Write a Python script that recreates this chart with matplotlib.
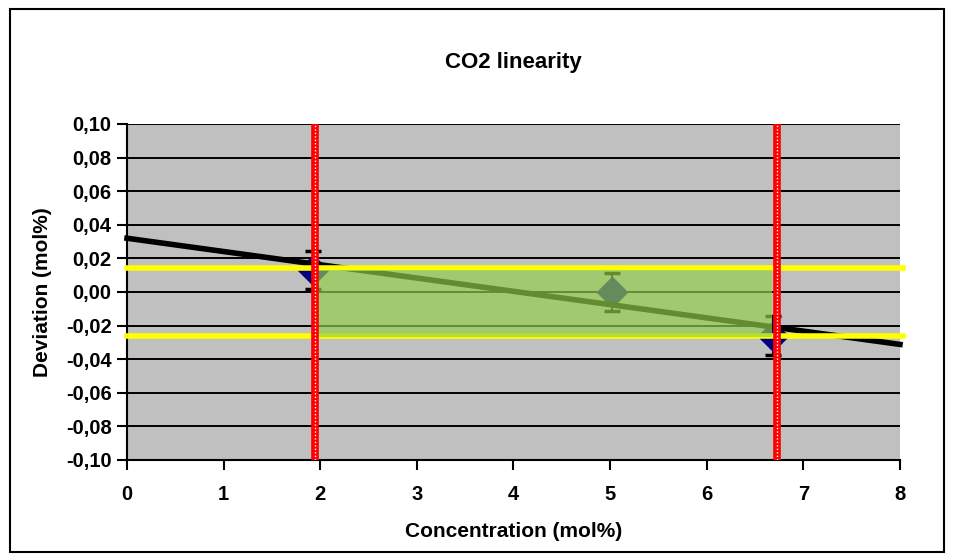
import numpy as np
import matplotlib
matplotlib.use("Agg")
import matplotlib.pyplot as plt
from matplotlib.ticker import FuncFormatter
from matplotlib.patches import Rectangle

plt.rcParams['font.family'] = ['Liberation Sans', 'DejaVu Sans']
plt.rcParams['font.weight'] = 'bold'

# measured points
conc = [1.93, 5.02, 6.69]
dev = [0.013, 0.000, -0.026]
err = [0.0115, 0.0113, 0.0115]

# trend line (intercept, slope)
trend = (0.032, -0.0079)

# limits
limit_lo = 1.95
limit_hi = 6.73
band_top = 0.014
band_bottom = -0.026
green_box = (1.95, 6.68, -0.027, 0.013)

fig = plt.figure(figsize=(9.54, 5.6), dpi=100)
fig.patches.append(Rectangle((10 / 954, 8 / 560), 934 / 954, 543 / 560, transform=fig.transFigure,
                             fill=False, edgecolor='black', linewidth=1.5))
ax = fig.add_axes([127 / 954, 1 - 460 / 560, 773 / 954, 336 / 560])
ax.set_facecolor('#C0C0C0')
ax.set_xlim(0, 8)
ax.set_ylim(-0.10, 0.10)
ax.set_xticks(range(0, 9))
ax.set_yticks(np.arange(-0.10, 0.101, 0.02))
ax.yaxis.set_major_formatter(FuncFormatter(lambda v, p: ('%.2f' % v).replace('.', ',').replace('-0,00', '0,00')))
ax.grid(axis='y', color='black', linewidth=1.4, zorder=1)
ax.set_axisbelow(True)
for s in ['top', 'right']:
    ax.spines[s].set_visible(False)
for s in ['left', 'bottom']:
    ax.spines[s].set_linewidth(1.5)
ax.tick_params(direction='out', length=7, width=1.5, labelsize=14.5)
ax.tick_params(axis='x', pad=11)
ax.tick_params(axis='y', pad=4)

ax.errorbar(conc, dev, yerr=err, fmt='D', color='#000080', markersize=15, ecolor='black',
            elinewidth=1.5, capsize=6, capthick=2.5, zorder=3)

b, k = trend
xs = np.array([0, 8])
ax.plot(xs, b + k * xs, color='black', linewidth=4, zorder=4, clip_on=False)

ax.axhline(band_top, color='#FFFF00', linewidth=4, zorder=5, xmax=1.004, clip_on=False)
ax.axhline(band_bottom, color='#FFFF00', linewidth=4, zorder=5, xmax=1.004, clip_on=False)

x0, x1, y0, y1 = green_box
ax.add_patch(Rectangle((x0, y0), x1 - x0, y1 - y0, facecolor=(147 / 255, 206 / 255, 74 / 255),
                       alpha=0.68, edgecolor='none', zorder=6))

for xv in [limit_lo, limit_hi]:
    ax.axvline(xv, color='#FF0000', linewidth=5.5, zorder=7)
    ax.axvline(xv, color='white', linewidth=1, linestyle=(0, (1, 1.5)), zorder=8)

ax.set_title('CO2 linearity', fontsize=16, fontweight='bold', pad=40)
ax.set_xlabel('Concentration (mol%)', fontsize=15, fontweight='bold', labelpad=13)
ax.set_ylabel('Deviation (mol%)', fontsize=15, fontweight='bold', labelpad=10)

fig.savefig('out.png', dpi=100)
